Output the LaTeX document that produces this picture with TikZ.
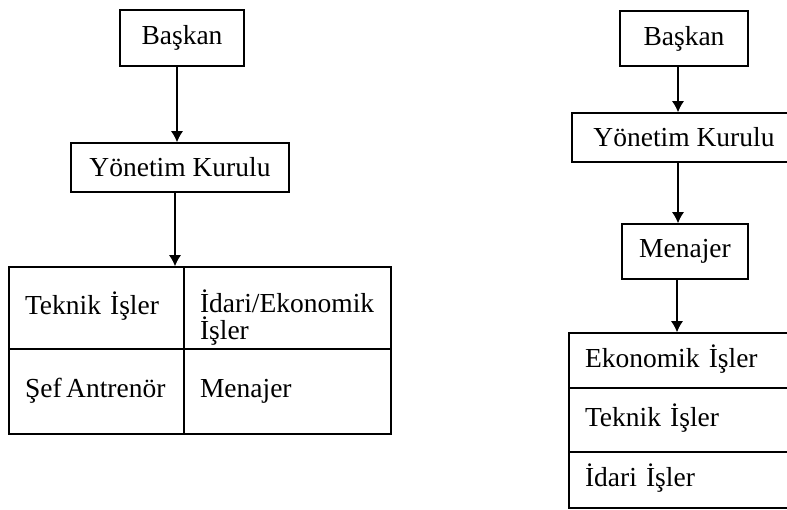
\documentclass[tikz,border=0pt]{standalone}
\usepackage{fontspec}
\setmainfont{Liberation Serif}
\usetikzlibrary{arrows.meta}

\begin{document}
\begin{tikzpicture}[x=1pt,y=-1pt,line width=1.5pt,
	every node/.style={font={\fontsize{27.5}{26.5}\selectfont\lineskiplimit=-30pt}},
	box/.style={draw,inner sep=0pt},
	cell/.style={draw,inner xsep=16pt,inner ysep=0pt,align=left,text height=19pt,text depth=6pt},
	arr/.style={line width=1.3pt,-{Latex[length=11pt,width=12pt]}}]
	\useasboundingbox (0,0) rectangle (787,510);
	\clip (0,0) rectangle (787,510);

	% first chart
	\node[box,minimum width=124pt,minimum height=56pt](baskanA) at (182,38) {Başkan};
	\node[box,minimum width=218pt,minimum height=49pt](yonetimA) at (180,167.5) {Yönetim Kurulu};
	\node[cell,text width=143pt,minimum height=82pt](teknikA) at (96.5,308) {Teknik İşler};
	\node[cell,text width=175pt,minimum height=82pt,text height=16pt](idariA) at (287.5,308) {İdari/Ekonomik\\İşler};
	\node[cell,text width=143pt,minimum height=85pt](sefA) at (96.5,391.5) {Şef\,Antrenör};
	\node[cell,text width=175pt,minimum height=85pt](menajerA) at (287.5,391.5) {Menajer};

	\draw[arr] ([xshift=-5pt]baskanA.south) -- ([xshift=-5pt]baskanA.south |- yonetimA.north);
	\draw[arr] ([xshift=-5pt]yonetimA.south) -- ([xshift=-5pt]yonetimA.south |- teknikA.north);

	% second chart
	\node[box,minimum width=128pt,minimum height=55pt](baskanB) at (684,38.5) {Başkan};
	\node[box,minimum width=224pt,minimum height=49pt](yonetimB) at (684,137.5) {Yönetim Kurulu};
	\node[box,minimum width=126pt,minimum height=55pt](menajerB) at (685,251.5) {Menajer};
	\node[cell,text width=199pt,minimum height=55pt](ekonomikB) at (684.5,360.5) {Ekonomik İşler};
	\node[cell,text width=199pt,minimum height=64pt](teknikB) at (684.5,420) {Teknik İşler};
	\node[cell,text width=199pt,minimum height=56pt](idariB) at (684.5,480) {İdari İşler};

	\draw[arr] ([xshift=-6pt]baskanB.south) -- ([xshift=-6pt]baskanB.south |- yonetimB.north);
	\draw[arr] ([xshift=-6pt]yonetimB.south) -- ([xshift=-6pt]yonetimB.south |- menajerB.north);
	\draw[arr] ([xshift=-8pt]menajerB.south) -- ([xshift=-8pt]menajerB.south |- ekonomikB.north);
\end{tikzpicture}
\end{document}
